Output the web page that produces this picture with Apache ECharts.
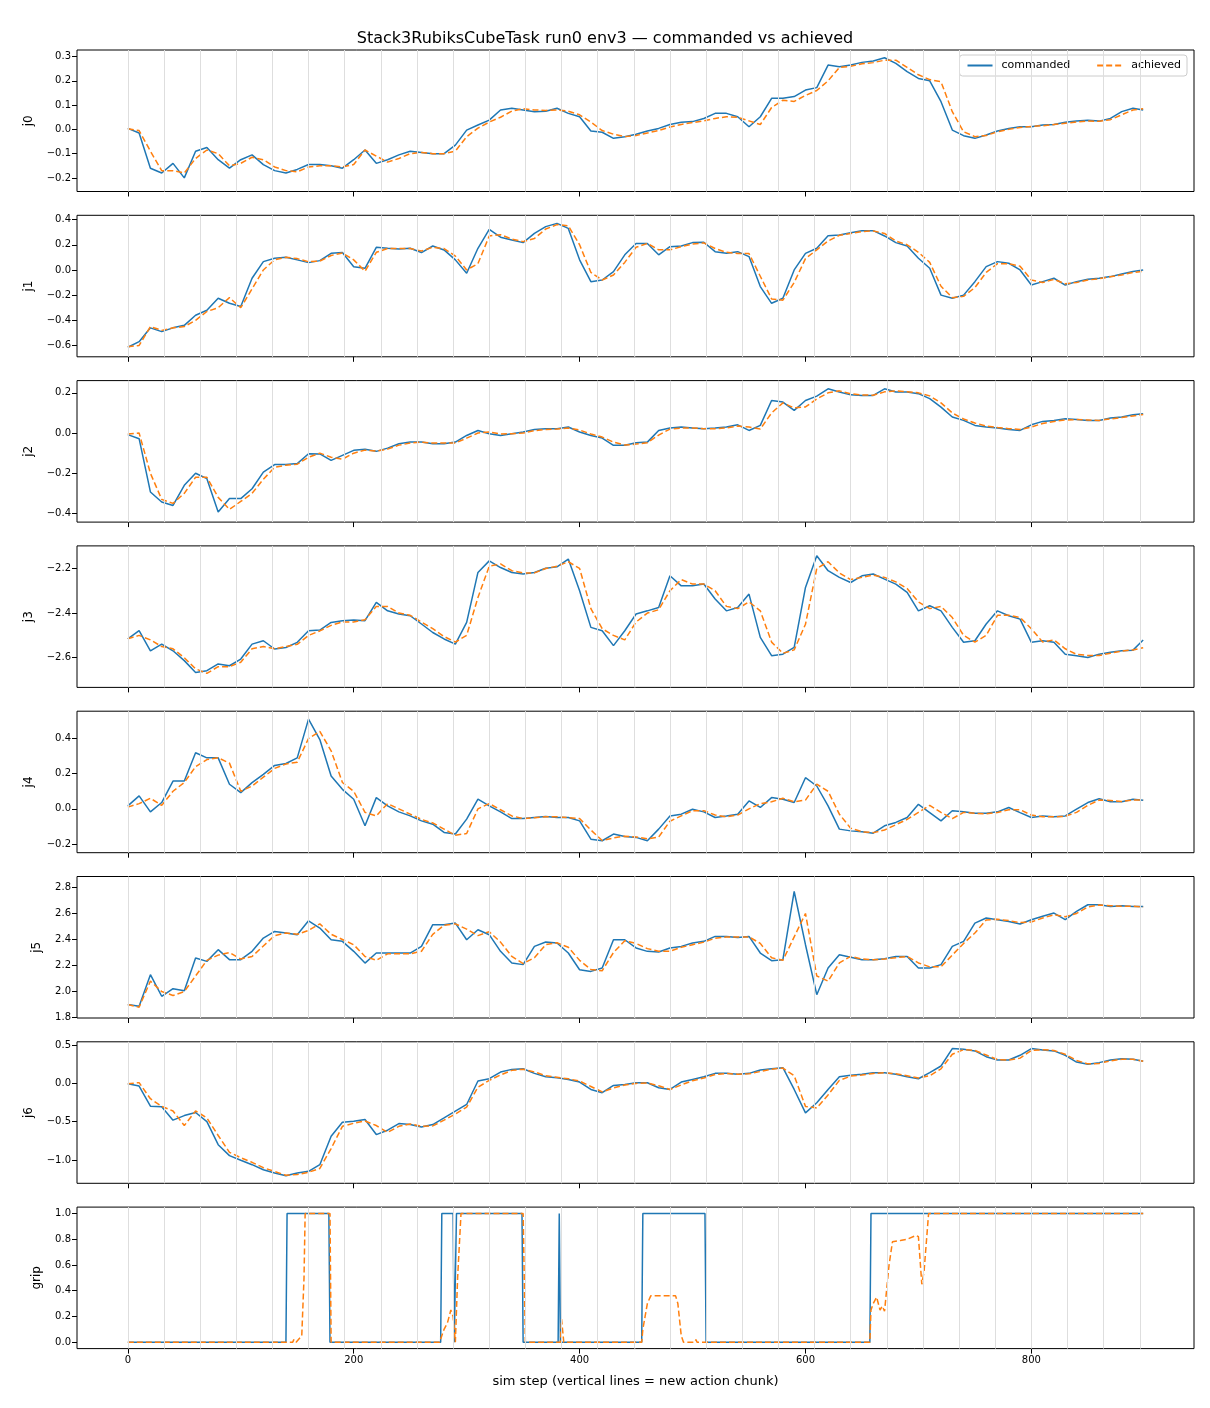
<!DOCTYPE html>
<html>
<head>
<meta charset="utf-8">
<title>Stack3RubiksCubeTask run0 env3</title>
<script src="https://cdn.jsdelivr.net/npm/echarts@6/dist/echarts.min.js"></script>
<style>
  html, body { margin: 0; padding: 0; background: #fff; }
  #chart { width: 1210px; height: 1408px; }
</style>
</head>
<body>
<div id="chart"></div>
<script>
// sim steps at which the joint curves were sampled
var steps = [0,10,20,30,40,50,60,70,80,90,100,110,120,130,140,150,160,170,180,190,
  200,210,220,230,240,250,260,270,280,290,300,310,320,330,340,350,360,370,380,390,
  400,410,420,430,440,450,460,470,480,490,500,510,520,530,540,550,560,570,580,590,
  600,610,620,630,640,650,660,670,680,690,700,710,720,730,740,750,760,770,780,790,
  800,810,820,830,840,850,860,870,880,890,899];

// new action chunk starts (vertical lines)
var chunkStarts = [0,32,64,96,128,160,192,224,256,288,320,352,384,416,448,480,512,
  544,576,608,640,672,704,736,768,800,832,864,896];

var j0Cmd = [0.004,-0.015,-0.16,-0.18,-0.14,-0.2,-0.09,-0.075,-0.125,-0.16,
  -0.125,-0.105,-0.145,-0.17,-0.18,-0.165,-0.145,-0.145,-0.15,-0.16,
  -0.125,-0.085,-0.14,-0.125,-0.105,-0.09,-0.095,-0.1,-0.1,-0.065,
  -0.003,0.018,0.038,0.08,0.087,0.08,0.073,0.075,0.087,0.066,
  0.052,-0.007,-0.012,-0.037,-0.03,-0.02,-0.007,0.004,0.02,0.029,
  0.032,0.045,0.066,0.066,0.052,0.011,0.052,0.128,0.128,0.135,
  0.162,0.172,0.265,0.258,0.265,0.276,0.282,0.295,0.272,0.238,
  0.21,0.2,0.114,-0.003,-0.026,-0.037,-0.023,-0.007,0.004,0.011,
  0.011,0.018,0.02,0.029,0.034,0.038,0.034,0.045,0.073,0.087,0.08];
var j0Ach = [0.003,-0.005,-0.09,-0.17,-0.17,-0.18,-0.12,-0.085,-0.1,-0.15,
  -0.14,-0.115,-0.125,-0.155,-0.17,-0.175,-0.155,-0.15,-0.15,-0.155,
  -0.145,-0.085,-0.11,-0.135,-0.12,-0.1,-0.095,-0.1,-0.1,-0.09,
  -0.03,0.005,0.03,0.05,0.075,0.085,0.08,0.078,0.08,0.075,
  0.06,0.03,-0.005,-0.02,-0.03,-0.025,-0.015,-0.005,0.01,0.02,
  0.028,0.035,0.045,0.052,0.05,0.035,0.02,0.09,0.12,0.115,
  0.14,0.16,0.2,0.255,0.26,0.27,0.275,0.285,0.285,0.255,
  0.225,0.205,0.196,0.073,-0.01,-0.03,-0.025,-0.01,0.0,0.008,
  0.012,0.015,0.02,0.025,0.03,0.035,0.033,0.04,0.06,0.08,0.085];

var j1Cmd = [-0.614,-0.57,-0.46,-0.49,-0.46,-0.44,-0.36,-0.32,-0.225,-0.265,
  -0.29,-0.066,0.066,0.093,0.1,0.08,0.058,0.074,0.132,0.138,
  0.026,0.013,0.18,0.172,0.167,0.172,0.138,0.19,0.159,0.08,
  -0.026,0.172,0.323,0.26,0.238,0.217,0.29,0.344,0.37,0.33,
  0.08,-0.093,-0.08,-0.013,0.12,0.21,0.21,0.12,0.185,0.19,
  0.217,0.22,0.145,0.132,0.145,0.106,-0.132,-0.265,-0.225,0.0,
  0.132,0.172,0.272,0.278,0.296,0.312,0.312,0.27,0.217,0.19,
  0.093,0.013,-0.2,-0.225,-0.2,-0.093,0.026,0.066,0.053,0.0,
  -0.12,-0.093,-0.066,-0.12,-0.093,-0.074,-0.066,-0.053,-0.032,-0.013,0.0];
var j1Ach = [-0.61,-0.6,-0.45,-0.48,-0.46,-0.45,-0.4,-0.33,-0.3,-0.22,
  -0.3,-0.15,0.0,0.08,0.1,0.09,0.065,0.07,0.115,0.135,
  0.08,-0.01,0.14,0.17,0.17,0.17,0.15,0.18,0.17,0.11,
  0.0,0.05,0.27,0.28,0.245,0.225,0.25,0.325,0.36,0.35,
  0.2,-0.02,-0.08,-0.04,0.06,0.18,0.21,0.16,0.16,0.185,
  0.205,0.215,0.17,0.14,0.13,0.13,-0.05,-0.23,-0.24,-0.1,
  0.09,0.16,0.23,0.275,0.29,0.305,0.31,0.29,0.23,0.2,
  0.14,0.06,-0.13,-0.22,-0.21,-0.14,-0.02,0.05,0.05,0.03,
  -0.08,-0.1,-0.075,-0.11,-0.1,-0.08,-0.07,-0.055,-0.04,-0.02,-0.01];

var j2Cmd = [-0.008,-0.028,-0.293,-0.343,-0.36,-0.26,-0.2,-0.227,-0.393,-0.326,
  -0.326,-0.277,-0.194,-0.157,-0.157,-0.152,-0.103,-0.104,-0.136,-0.111,
  -0.086,-0.081,-0.091,-0.075,-0.053,-0.045,-0.045,-0.053,-0.053,-0.045,
  -0.012,0.013,-0.003,-0.012,-0.003,0.005,0.018,0.022,0.022,0.03,
  0.005,-0.012,-0.025,-0.061,-0.061,-0.048,-0.045,0.013,0.025,0.03,
  0.025,0.022,0.025,0.03,0.041,0.013,0.038,0.162,0.154,0.113,
  0.162,0.184,0.22,0.204,0.19,0.187,0.187,0.22,0.204,0.204,
  0.196,0.171,0.129,0.08,0.063,0.038,0.03,0.025,0.018,0.013,
  0.041,0.058,0.063,0.071,0.068,0.063,0.063,0.075,0.08,0.091,0.096];
var j2Ach = [-0.005,0.0,-0.2,-0.33,-0.35,-0.3,-0.22,-0.22,-0.32,-0.38,
  -0.34,-0.3,-0.23,-0.17,-0.16,-0.155,-0.12,-0.1,-0.12,-0.13,
  -0.1,-0.085,-0.09,-0.08,-0.06,-0.05,-0.045,-0.05,-0.05,-0.05,
  -0.025,0.0,0.005,-0.005,-0.003,0.0,0.012,0.018,0.02,0.025,
  0.015,-0.005,-0.02,-0.045,-0.06,-0.055,-0.048,-0.01,0.02,0.025,
  0.025,0.022,0.022,0.025,0.035,0.03,0.02,0.1,0.15,0.125,
  0.13,0.17,0.2,0.21,0.195,0.19,0.188,0.205,0.21,0.205,
  0.2,0.185,0.15,0.1,0.07,0.05,0.035,0.028,0.022,0.018,
  0.03,0.048,0.058,0.065,0.067,0.065,0.063,0.07,0.077,0.085,0.092];

var j3Cmd = [-2.516,-2.479,-2.569,-2.539,-2.569,-2.613,-2.666,-2.658,-2.628,-2.636,
  -2.606,-2.539,-2.524,-2.561,-2.554,-2.531,-2.479,-2.476,-2.442,-2.434,
  -2.431,-2.434,-2.352,-2.39,-2.404,-2.412,-2.449,-2.487,-2.516,-2.539,
  -2.442,-2.218,-2.166,-2.196,-2.218,-2.225,-2.218,-2.199,-2.193,-2.158,
  -2.3,-2.464,-2.479,-2.546,-2.479,-2.404,-2.39,-2.375,-2.233,-2.278,
  -2.278,-2.27,-2.337,-2.39,-2.375,-2.315,-2.509,-2.591,-2.584,-2.554,
  -2.285,-2.143,-2.21,-2.24,-2.263,-2.233,-2.225,-2.248,-2.27,-2.307,
  -2.39,-2.367,-2.39,-2.464,-2.531,-2.524,-2.449,-2.39,-2.412,-2.427,
  -2.531,-2.524,-2.531,-2.584,-2.591,-2.599,-2.584,-2.576,-2.569,-2.566,-2.521];
var j3Ach = [-2.515,-2.5,-2.52,-2.55,-2.56,-2.6,-2.65,-2.67,-2.64,-2.64,
  -2.62,-2.56,-2.55,-2.56,-2.55,-2.54,-2.5,-2.48,-2.455,-2.44,
  -2.44,-2.43,-2.37,-2.37,-2.4,-2.41,-2.44,-2.47,-2.505,-2.53,
  -2.5,-2.33,-2.19,-2.18,-2.21,-2.22,-2.22,-2.2,-2.19,-2.17,
  -2.2,-2.38,-2.47,-2.5,-2.52,-2.44,-2.4,-2.385,-2.3,-2.25,
  -2.27,-2.27,-2.3,-2.37,-2.38,-2.35,-2.39,-2.53,-2.58,-2.565,
  -2.45,-2.2,-2.17,-2.22,-2.25,-2.24,-2.23,-2.24,-2.26,-2.29,
  -2.35,-2.38,-2.37,-2.42,-2.5,-2.53,-2.5,-2.41,-2.41,-2.42,
  -2.47,-2.53,-2.52,-2.56,-2.585,-2.59,-2.59,-2.58,-2.57,-2.565,-2.555];

var j4Cmd = [0.017,0.074,-0.017,0.036,0.158,0.158,0.319,0.29,0.29,0.14,
  0.092,0.149,0.196,0.247,0.258,0.29,0.51,0.394,0.187,0.111,
  0.055,-0.096,0.064,0.017,-0.017,-0.04,-0.068,-0.087,-0.134,-0.143,
  -0.058,0.055,0.017,-0.017,-0.055,-0.055,-0.049,-0.043,-0.049,-0.049,
  -0.068,-0.172,-0.181,-0.143,-0.157,-0.162,-0.181,-0.115,-0.04,-0.03,
  -0.002,-0.017,-0.049,-0.04,-0.03,0.045,0.008,0.064,0.055,0.036,
  0.177,0.13,0.017,-0.115,-0.125,-0.13,-0.138,-0.096,-0.077,-0.049,
  0.026,-0.021,-0.068,-0.011,-0.017,-0.025,-0.025,-0.017,0.008,-0.021,
  -0.049,-0.04,-0.045,-0.04,-0.002,0.036,0.058,0.04,0.04,0.055,0.049];
var j4Ach = [0.01,0.03,0.06,0.02,0.1,0.15,0.24,0.28,0.29,0.26,
  0.1,0.13,0.18,0.23,0.255,0.265,0.4,0.44,0.33,0.15,
  0.1,-0.02,-0.04,0.03,0.0,-0.03,-0.06,-0.08,-0.115,-0.15,
  -0.14,0.0,0.03,-0.005,-0.04,-0.055,-0.05,-0.045,-0.045,-0.05,
  -0.055,-0.12,-0.18,-0.165,-0.155,-0.16,-0.17,-0.16,-0.07,-0.04,
  -0.01,-0.01,-0.035,-0.045,-0.035,0.0,0.03,0.04,0.06,0.04,
  0.05,0.14,0.1,-0.03,-0.11,-0.13,-0.135,-0.12,-0.09,-0.06,
  -0.02,0.02,-0.02,-0.055,-0.02,-0.025,-0.028,-0.02,-0.005,-0.005,
  -0.035,-0.045,-0.045,-0.042,-0.02,0.02,0.05,0.048,0.042,0.05,0.05];

var j5Cmd = [1.9,1.887,2.13,1.964,2.022,2.007,2.258,2.232,2.322,2.245,
  2.245,2.309,2.411,2.462,2.45,2.437,2.544,2.488,2.398,2.386,
  2.309,2.219,2.296,2.296,2.296,2.296,2.347,2.514,2.514,2.526,
  2.398,2.475,2.437,2.309,2.219,2.207,2.347,2.381,2.373,2.296,
  2.168,2.155,2.181,2.398,2.398,2.335,2.309,2.304,2.335,2.347,
  2.373,2.386,2.424,2.424,2.416,2.424,2.296,2.237,2.245,2.769,
  2.36,1.976,2.181,2.283,2.263,2.245,2.245,2.253,2.27,2.27,
  2.181,2.181,2.207,2.347,2.386,2.526,2.565,2.552,2.539,2.519,
  2.552,2.578,2.603,2.552,2.616,2.667,2.667,2.654,2.659,2.654,2.654];
var j5Ach = [1.9,1.88,2.08,2.0,1.97,2.0,2.12,2.24,2.28,2.3,
  2.25,2.27,2.35,2.43,2.45,2.44,2.47,2.52,2.44,2.4,
  2.36,2.27,2.24,2.29,2.29,2.29,2.31,2.44,2.51,2.52,
  2.48,2.43,2.46,2.38,2.27,2.215,2.26,2.36,2.375,2.34,
  2.24,2.17,2.16,2.3,2.39,2.37,2.33,2.31,2.31,2.34,
  2.36,2.38,2.41,2.42,2.42,2.42,2.37,2.26,2.24,2.42,
  2.6,2.12,2.08,2.22,2.27,2.25,2.245,2.25,2.26,2.27,
  2.22,2.19,2.19,2.28,2.37,2.45,2.55,2.555,2.545,2.53,
  2.535,2.565,2.59,2.575,2.6,2.65,2.665,2.66,2.655,2.655,2.65];

var j6Cmd = [-0.004,-0.035,-0.297,-0.306,-0.48,-0.42,-0.38,-0.5,-0.8,-0.943,
  -1.004,-1.061,-1.127,-1.17,-1.205,-1.17,-1.148,-1.061,-0.69,-0.507,
  -0.493,-0.472,-0.668,-0.611,-0.524,-0.537,-0.568,-0.537,-0.45,-0.362,
  -0.275,0.031,0.061,0.148,0.183,0.192,0.131,0.087,0.074,0.052,
  0.017,-0.079,-0.122,-0.026,-0.013,0.009,0.009,-0.057,-0.079,0.017,
  0.052,0.087,0.131,0.131,0.118,0.131,0.175,0.192,0.205,-0.079,
  -0.384,-0.253,-0.079,0.087,0.105,0.118,0.14,0.14,0.118,0.087,
  0.061,0.14,0.227,0.454,0.445,0.424,0.349,0.306,0.306,0.367,
  0.454,0.437,0.424,0.367,0.279,0.249,0.271,0.306,0.323,0.314,0.288];
var j6Ach = [-0.004,0.01,-0.2,-0.3,-0.36,-0.55,-0.36,-0.45,-0.68,-0.9,
  -0.97,-1.03,-1.1,-1.15,-1.2,-1.19,-1.16,-1.11,-0.85,-0.56,
  -0.52,-0.49,-0.55,-0.64,-0.56,-0.53,-0.56,-0.555,-0.48,-0.4,
  -0.31,-0.05,0.04,0.11,0.17,0.185,0.15,0.1,0.08,0.06,
  0.03,-0.04,-0.11,-0.06,-0.02,0.0,0.005,-0.03,-0.08,-0.02,
  0.035,0.07,0.115,0.13,0.12,0.125,0.155,0.185,0.2,0.1,
  -0.3,-0.32,-0.15,0.04,0.095,0.11,0.13,0.14,0.125,0.1,
  0.07,0.1,0.19,0.38,0.44,0.43,0.37,0.31,0.305,0.33,
  0.43,0.44,0.43,0.38,0.3,0.255,0.26,0.295,0.315,0.315,0.29];

// gripper: [step, value] pairs at the switching points
var gripCmd = [[0,0],[140,0],[141,1],[178,1],[179,0],[277,0],[278,1],[288,1],[289,0],
  [290,0],[291,1],[349,1],[350,0],[381,0],[382,1],[383,0],[455,0],[456,1],[511,1],
  [512,0],[657,0],[658,1],[899,1]];
var gripAch = [[0,0],[146,0],[147,0.02],[149,0],[154,0.05],[156,0.5],[157,1],[179,1],
  [180,0],[276,0],[280,0.1],[283,0.15],[286,0.25],[288,0.2],[290,0],[292,0.5],[295,1],
  [350,1],[352,0],[383,0],[384,0.18],[386,0],[455,0],[456,0.1],[458,0.2],[460,0.3],
  [463,0.36],[485,0.36],[487,0.3],[490,0.05],[492,0],[502,0],[503,0.02],[504,0],
  [657,0],[658,0.25],[660,0.3],[663,0.35],[666,0.25],[668,0.28],[670,0.24],[674,0.6],
  [677,0.78],[684,0.79],[690,0.8],[698,0.83],[700,0.82],[703,0.45],[705,0.55],
  [709,1],[899,1]];

var panelNames = ['j0','j1','j2','j3','j4','j5','j6','grip'];
var yRanges = [[-0.256,0.327],[-0.69,0.434],[-0.443,0.261],[-2.733,-2.099],
  [-0.249,0.555],[1.797,2.884],[-1.304,0.543],[-0.05,1.05]];
var yTicks = [[-0.2,-0.1,0,0.1,0.2,0.3],[-0.6,-0.4,-0.2,0,0.2,0.4],[-0.4,-0.2,0,0.2],
  [-2.6,-2.4,-2.2],[-0.2,0,0.2,0.4],[1.8,2.0,2.2,2.4,2.6,2.8],[-1.0,-0.5,0,0.5],
  [0,0.2,0.4,0.6,0.8,1.0]];
var xTicks = [0,200,400,600,800];

function pairs(vals) {
  return steps.map(function (s, i) { return [s, vals[i]]; });
}
var cmdData = [j0Cmd,j1Cmd,j2Cmd,j3Cmd,j4Cmd,j5Cmd,j6Cmd].map(pairs).concat([gripCmd]);
var achData = [j0Ach,j1Ach,j2Ach,j3Ach,j4Ach,j5Ach,j6Ach].map(pairs).concat([gripAch]);

function fmt(v) {
  return v.toFixed(1).replace('-', '\u2212');
}

var FONT = 'DejaVu Sans';
var BLUE = '#1f77b4';
var ORANGE = '#ff7f0e';

var grids = [], xAxes = [], yAxes = [], series = [];
var top0 = 50, pitch = 165.3, ph = 141.5;

for (var i = 0; i < 8; i++) {
  var last = (i === 7);
  var hasMinus = yTicks[i].some(function (t) { return t < 0; });
  grids.push({
    left: 77, width: 1117, top: top0 + i * pitch, height: ph,
    show: true, borderColor: '#000', borderWidth: 1, backgroundColor: 'transparent'
  });
  xAxes.push({
    type: 'value', gridIndex: i, min: -45, max: 944, position: 'bottom',
    axisLine: { show: false, onZero: false },
    splitLine: { show: false },
    axisTick: { show: true, length: 5, customValues: xTicks, lineStyle: { color: '#000' } },
    axisLabel: {
      show: last, customValues: xTicks, fontFamily: FONT, fontSize: 10, color: '#000', margin: 7
    },
    name: last ? 'sim step (vertical lines = new action chunk)' : '',
    nameLocation: 'middle', nameGap: 27,
    nameTextStyle: { fontFamily: FONT, fontSize: 13, color: '#000' }
  });
  yAxes.push({
    type: 'value', gridIndex: i, min: yRanges[i][0], max: yRanges[i][1], position: 'left',
    axisLine: { show: false, onZero: false },
    splitLine: { show: false },
    axisTick: { show: true, length: 5, customValues: yTicks[i], lineStyle: { color: '#000' } },
    axisLabel: {
      customValues: yTicks[i], fontFamily: FONT, fontSize: 10, color: '#000', margin: 6,
      formatter: fmt
    },
    name: panelNames[i], nameLocation: 'middle', nameRotate: 90,
    nameGap: hasMinus ? 42 : 34,
    nameTextStyle: { fontFamily: FONT, fontSize: 12, color: '#000' }
  });
  series.push({
    name: 'chunks', type: 'line', xAxisIndex: i, yAxisIndex: i, data: [], z: 1,
    silent: true,
    markLine: {
      silent: true, symbol: ['none', 'none'], animation: false,
      label: { show: false },
      lineStyle: { color: '#dedede', width: 1, type: 'solid' },
      data: chunkStarts.map(function (c) { return { xAxis: c }; })
    }
  });
  series.push({
    name: 'commanded', type: 'line', xAxisIndex: i, yAxisIndex: i, data: cmdData[i],
    symbol: 'none', z: 3,
    lineStyle: { color: BLUE, width: 1.5 }, itemStyle: { color: BLUE }
  });
  series.push({
    name: 'achieved', type: 'line', xAxisIndex: i, yAxisIndex: i, data: achData[i],
    symbol: 'none', z: 4,
    lineStyle: { color: ORANGE, width: 1.5, type: [6, 3] }, itemStyle: { color: ORANGE }
  });
}

var chart = echarts.init(document.getElementById('chart'), null, { renderer: 'canvas' });
chart.setOption({
  animation: false,
  backgroundColor: '#fff',
  title: {
    text: 'Stack3RubiksCubeTask run0 env3 \u2014 commanded vs achieved',
    left: 'center', top: 26,
    textStyle: { fontFamily: FONT, fontSize: 16, fontWeight: 'normal', color: '#000' }
  },
  legend: {
    data: ['commanded', 'achieved'],
    right: 23, top: 55,
    itemWidth: 25, itemHeight: 12, itemGap: 26,
    padding: [5, 6, 5, 7],
    itemStyle: { opacity: 0 },
    borderColor: '#cccccc', borderWidth: 1, borderRadius: 3,
    backgroundColor: 'rgba(255,255,255,0.8)',
    textStyle: { fontFamily: FONT, fontSize: 11, color: '#000', padding: [0, 0, 0, 4] }
  },
  grid: grids,
  xAxis: xAxes,
  yAxis: yAxes,
  series: series
});
</script>
</body>
</html>
